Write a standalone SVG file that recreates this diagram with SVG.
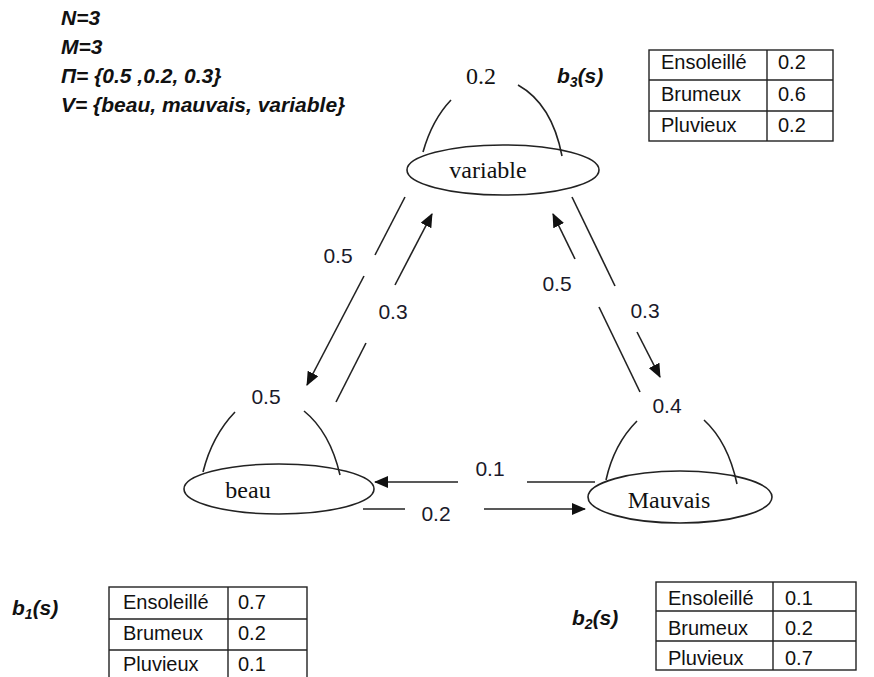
<svg xmlns="http://www.w3.org/2000/svg" width="874" height="677" viewBox="0 0 874 677">
<defs>
<marker id="ah" markerUnits="userSpaceOnUse" markerWidth="14" markerHeight="12" refX="13" refY="6" orient="auto">
<path d="M0,0 L14,6 L0,12 Z" fill="#111"/>
</marker>
<style>
.ln{fill:none;stroke:#222;stroke-width:1.6}
.el{fill:none;stroke:#222;stroke-width:1.6}
.serif{font-family:"Liberation Serif",serif;font-size:24px;fill:#111}
.num{font-family:"Liberation Sans",sans-serif;font-size:21px;fill:#1a1a2a}
.hdr{font-family:"Liberation Sans",sans-serif;font-size:21px;font-weight:bold;font-style:italic;fill:#111}
.tb{font-family:"Liberation Sans",sans-serif;font-size:20px;fill:#111}
.grid{fill:none;stroke:#222;stroke-width:1.4}
</style>
</defs>
<rect width="874" height="677" fill="#fff"/>

<g id="params">
<text class="hdr" x="61" y="25">N=3</text>
<text class="hdr" x="61" y="54">M=3</text>
<text class="hdr" x="61" y="83">Π= {0.5 ,0.2, 0.3}</text>
<text class="hdr" x="61" y="112">V= {beau, mauvais, variable}</text>
</g>

<g id="connectors">
<line class="ln" x1="405" y1="197" x2="375" y2="255"/>
<line class="ln" x1="364" y1="276" x2="307" y2="385" marker-end="url(#ah)"/>
<line class="ln" x1="336" y1="402" x2="366" y2="343"/>
<line class="ln" x1="395" y1="285" x2="432" y2="214" marker-end="url(#ah)"/>
<text class="num" x="338" y="263" text-anchor="middle">0.5</text>
<text class="num" x="393" y="319" text-anchor="middle">0.3</text>
<line class="ln" x1="575" y1="259" x2="553" y2="214" marker-end="url(#ah)"/>
<line class="ln" x1="572" y1="197" x2="615" y2="286"/>
<line class="ln" x1="599" y1="307" x2="640" y2="392"/>
<line class="ln" x1="637" y1="332" x2="660" y2="377" marker-end="url(#ah)"/>
<text class="num" x="557" y="291" text-anchor="middle">0.5</text>
<text class="num" x="645" y="318" text-anchor="middle">0.3</text>
<line class="ln" x1="458" y1="482" x2="375" y2="482" marker-end="url(#ah)"/>
<line class="ln" x1="527" y1="482" x2="595" y2="482"/>
<line class="ln" x1="363" y1="509" x2="405" y2="509"/>
<line class="ln" x1="484" y1="509" x2="585" y2="509" marker-end="url(#ah)"/>
<text class="num" x="490" y="476" text-anchor="middle">0.1</text>
<text class="num" x="436" y="521" text-anchor="middle">0.2</text>
<path class="ln" d="M423,152 Q432,120 451,100"/>
<path class="ln" d="M518,85 Q552,104 562,156"/>
<text class="serif" x="481" y="84" text-anchor="middle">0.2</text>
<path class="ln" d="M203,472 Q212,436 235,412"/>
<path class="ln" d="M304,411 Q330,432 340,475"/>
<text class="num" x="266" y="404" text-anchor="middle">0.5</text>
<path class="ln" d="M606,480 Q614,444 637,421"/>
<path class="ln" d="M704,420 Q728,442 737,484"/>
<text class="num" x="667" y="413" text-anchor="middle">0.4</text>
</g>

<g id="node-variable">
<ellipse class="el" cx="503" cy="170" rx="96" ry="25"/>
<text class="serif" x="488" y="178" text-anchor="middle">variable</text>
</g>
<g id="node-beau">
<ellipse class="el" cx="279" cy="489" rx="95" ry="25"/>
<text class="serif" x="248" y="498" text-anchor="middle">beau</text>
</g>
<g id="node-mauvais">
<ellipse class="el" cx="680" cy="497" rx="92" ry="26"/>
<text class="serif" x="669" y="508" text-anchor="middle">Mauvais</text>
</g>

<g id="table-b3">
<text class="hdr" x="557" y="83">b<tspan font-size="14" dy="4">3</tspan><tspan dy="-4">(s)</tspan></text>
<rect class="grid" x="649" y="50" width="184" height="91"/>
<line class="grid" x1="767" y1="50" x2="767" y2="141"/>
<line class="grid" x1="649" y1="80" x2="833" y2="80"/>
<line class="grid" x1="649" y1="111" x2="833" y2="111"/>
<text class="tb" x="661" y="69">Ensoleillé</text>
<text class="tb" x="778" y="69">0.2</text>
<text class="tb" x="661" y="101">Brumeux</text>
<text class="tb" x="778" y="101">0.6</text>
<text class="tb" x="661" y="132">Pluvieux</text>
<text class="tb" x="778" y="132">0.2</text>
</g>

<g id="table-b1">
<text class="hdr" x="12" y="615">b<tspan font-size="14" dy="4">1</tspan><tspan dy="-4">(s)</tspan></text>
<rect class="grid" x="109" y="587" width="198" height="96"/>
<line class="grid" x1="228" y1="587" x2="228" y2="683"/>
<line class="grid" x1="109" y1="619" x2="307" y2="619"/>
<line class="grid" x1="109" y1="650" x2="307" y2="650"/>
<text class="tb" x="123" y="609">Ensoleillé</text>
<text class="tb" x="238" y="609">0.7</text>
<text class="tb" x="123" y="640">Brumeux</text>
<text class="tb" x="238" y="640">0.2</text>
<text class="tb" x="123" y="671">Pluvieux</text>
<text class="tb" x="238" y="671">0.1</text>
</g>

<g id="table-b2">
<text class="hdr" x="572" y="625">b<tspan font-size="14" dy="4">2</tspan><tspan dy="-4">(s)</tspan></text>
<rect class="grid" x="656" y="582" width="200" height="88"/>
<line class="grid" x1="773" y1="582" x2="773" y2="670"/>
<line class="grid" x1="656" y1="611" x2="856" y2="611"/>
<line class="grid" x1="656" y1="641" x2="856" y2="641"/>
<text class="tb" x="668" y="605">Ensoleillé</text>
<text class="tb" x="785" y="605">0.1</text>
<text class="tb" x="668" y="635">Brumeux</text>
<text class="tb" x="785" y="635">0.2</text>
<text class="tb" x="668" y="665">Pluvieux</text>
<text class="tb" x="785" y="665">0.7</text>
</g>
</svg>
